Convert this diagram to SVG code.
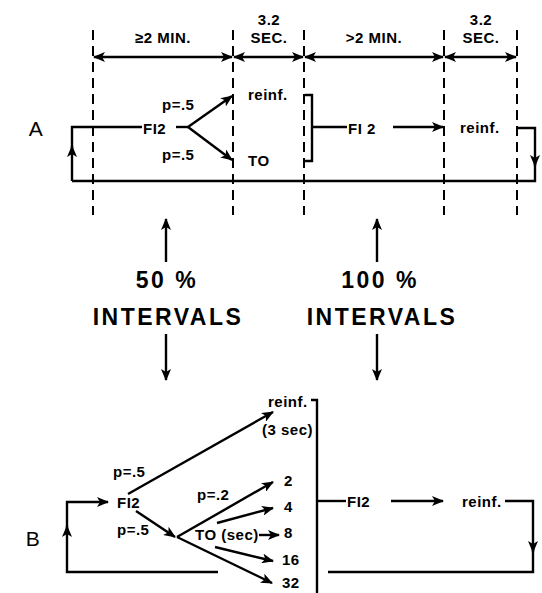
<svg xmlns="http://www.w3.org/2000/svg" width="542" height="593" viewBox="0 0 542 593">
<style>
.t{font-family:"Liberation Sans",Arial,sans-serif;font-size:15px;font-weight:bold;fill:#000;letter-spacing:0.5px}
.big{font-size:23px;letter-spacing:2.5px}
.lbl{font-size:21px;font-weight:normal}
.ln{fill:none;stroke:#000;stroke-width:2.4}
.dash{fill:none;stroke:#000;stroke-width:2;stroke-dasharray:10 6}
.arr{marker-end:url(#ah)}
.dbl{marker-start:url(#ah);marker-end:url(#ah)}
</style>
<defs>
<marker id="ah" viewBox="0 0 12 10" refX="11" refY="5" markerWidth="12" markerHeight="10" markerUnits="userSpaceOnUse" orient="auto-start-reverse">
<path d="M0,0 L12,5 L0,10 L3,5 z" fill="#000"/>
</marker>
</defs>
<rect width="542" height="593" fill="#fff"/>

<g id="timeline">
<path class="dash" d="M93,30V215M233,30V215M304,30V215M444,30V215M517,30V215"/>
<path class="ln dbl" d="M94,57H232"/>
<path class="ln dbl" d="M234,57H303"/>
<path class="ln dbl" d="M305,57H443"/>
<path class="ln dbl" d="M445,57H516"/>
<text class="t" x="163" y="43" text-anchor="middle">≥2 MIN.</text>
<text class="t" x="269" y="25" text-anchor="middle">3.2</text>
<text class="t" x="269" y="43" text-anchor="middle">SEC.</text>
<text class="t" x="374" y="43" text-anchor="middle">&gt;2 MIN.</text>
<text class="t" x="481" y="25" text-anchor="middle">3.2</text>
<text class="t" x="481" y="43" text-anchor="middle">SEC.</text>
</g>

<g id="A">
<text class="t lbl" x="36" y="136" text-anchor="middle">A</text>
<text class="t" x="143" y="134" letter-spacing="2">FI2</text>
<text class="t" x="162" y="110">p=.5</text>
<text class="t" x="162" y="160">p=.5</text>
<text class="t" x="248" y="100">reinf.</text>
<text class="t" x="248" y="166">TO</text>
<text class="t" x="348" y="134" letter-spacing="3">FI 2</text>
<text class="t" x="460" y="133">reinf.</text>
</g>

<g id="middle">
<text class="t big" x="167" y="288" text-anchor="middle" letter-spacing="1">50 %</text>
<text class="t big" x="168" y="325" text-anchor="middle">INTERVALS</text>
<text class="t big" x="380" y="288" text-anchor="middle" letter-spacing="1">100 %</text>
<text class="t big" x="382" y="325" text-anchor="middle">INTERVALS</text>
</g>

<g id="B">
<text class="t lbl" x="33" y="546" text-anchor="middle">B</text>
<text class="t" x="113" y="477">p=.5</text>
<text class="t" x="117" y="508" letter-spacing="1.5">FI2</text>
<text class="t" x="117" y="535">p=.5</text>
<text class="t" x="197" y="500">p=.2</text>
<text class="t" x="195" y="540" font-size="14" letter-spacing="0">TO (sec)</text>
<text class="t" x="284" y="486">2</text>
<text class="t" x="284" y="512">4</text>
<text class="t" x="284" y="538">8</text>
<text class="t" x="282" y="565">16</text>
<text class="t" x="282" y="588">32</text>
<text class="t" x="268" y="407">reinf.</text>
<text class="t" x="262" y="435" letter-spacing="0">(3 sec)</text>
<text class="t" x="347" y="507" letter-spacing="1.5">FI2</text>
<text class="t" x="462" y="507">reinf.</text>
</g>

<g id="connectors">
<path class="ln arr" d="M72,181V146"/>
<path class="ln" d="M72,150V127H142"/>
<path class="ln" d="M176,127H188"/>
<path class="ln arr" d="M188,127L232,96"/>
<path class="ln arr" d="M188,127L232,160"/>
<path class="ln" d="M305,95H312V161H305M312,127H347"/>
<path class="ln arr" d="M393,127H443"/>
<path class="ln arr" d="M517,128H535V166"/>
<path class="ln" d="M535,160V181H72"/>

<path class="ln arr" d="M166,262V219"/>
<path class="ln arr" d="M166,334V380"/>
<path class="ln arr" d="M377,262V219"/>
<path class="ln arr" d="M377,334V380"/>

<path class="ln arr" d="M218,572H67V526"/>
<path class="ln arr" d="M67,530V502H108"/>
<path class="ln arr" d="M128,494L273,412"/>
<path class="ln arr" d="M136,511L175,537"/>
<path class="ln arr" d="M177,537L273,482"/>
<path class="ln arr" d="M217,523L273,508"/>
<path class="ln arr" d="M259,535H279"/>
<path class="ln arr" d="M215,547L273,561"/>
<path class="ln arr" d="M177,537L272,583"/>
<path class="ln" d="M311,400H317V600"/>
<path class="ln" d="M317,501H346"/>
<path class="ln arr" d="M391,501H443"/>
<path class="ln arr" d="M505,501H533V552"/>
<path class="ln" d="M533,548V572H328"/>
</g>
</svg>
